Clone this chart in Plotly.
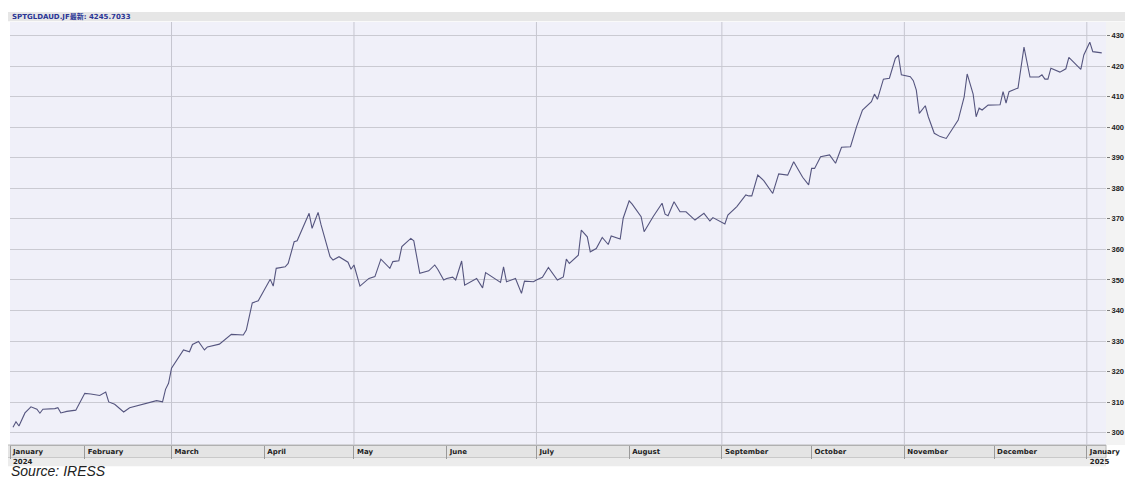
import plotly.graph_objects as go

# ---- data ----
dates = [
    "2024-01-08", "2024-01-09", "2024-01-10", "2024-01-11", "2024-01-12", "2024-01-14", "2024-01-16", "2024-01-17",
    "2024-01-18", "2024-01-22", "2024-01-23", "2024-01-24", "2024-01-26", "2024-01-29", "2024-01-30",
    "2024-02-01", "2024-02-03", "2024-02-06", "2024-02-08", "2024-02-09", "2024-02-11", "2024-02-14", "2024-02-16",
    "2024-02-21", "2024-02-23", "2024-02-25", "2024-02-27", "2024-02-28", "2024-02-29",
    "2024-03-01", "2024-03-05", "2024-03-07", "2024-03-08", "2024-03-10", "2024-03-12", "2024-03-13", "2024-03-17",
    "2024-03-20", "2024-03-21", "2024-03-25", "2024-03-26", "2024-03-28", "2024-03-30",
    "2024-04-01", "2024-04-03", "2024-04-04", "2024-04-05", "2024-04-08", "2024-04-09", "2024-04-11", "2024-04-12",
    "2024-04-16", "2024-04-17", "2024-04-19", "2024-04-20", "2024-04-23", "2024-04-24", "2024-04-26", "2024-04-29",
    "2024-04-30",
    "2024-05-01", "2024-05-03", "2024-05-06", "2024-05-08", "2024-05-10", "2024-05-13", "2024-05-14", "2024-05-16",
    "2024-05-17", "2024-05-20", "2024-05-21", "2024-05-23", "2024-05-26", "2024-05-28", "2024-05-29", "2024-05-31",
    "2024-06-01", "2024-06-03", "2024-06-04", "2024-06-06", "2024-06-07", "2024-06-11", "2024-06-13", "2024-06-14",
    "2024-06-19", "2024-06-20", "2024-06-21", "2024-06-24", "2024-06-26", "2024-06-27", "2024-06-30",
    "2024-07-01", "2024-07-03", "2024-07-05", "2024-07-08", "2024-07-10", "2024-07-11", "2024-07-12", "2024-07-15",
    "2024-07-16", "2024-07-18", "2024-07-19", "2024-07-21", "2024-07-23", "2024-07-25", "2024-07-26", "2024-07-29",
    "2024-07-30",
    "2024-08-01", "2024-08-02", "2024-08-05", "2024-08-06", "2024-08-09", "2024-08-12", "2024-08-13", "2024-08-14",
    "2024-08-16", "2024-08-18", "2024-08-20", "2024-08-23", "2024-08-26", "2024-08-28", "2024-08-29",
    "2024-09-02", "2024-09-03", "2024-09-06", "2024-09-09", "2024-09-10", "2024-09-11", "2024-09-13", "2024-09-15",
    "2024-09-18", "2024-09-20", "2024-09-23", "2024-09-25", "2024-09-28", "2024-09-30",
    "2024-10-01", "2024-10-02", "2024-10-04", "2024-10-07", "2024-10-09", "2024-10-11", "2024-10-14", "2024-10-16",
    "2024-10-18", "2024-10-21", "2024-10-22", "2024-10-23", "2024-10-25", "2024-10-27", "2024-10-29", "2024-10-30",
    "2024-10-31",
    "2024-11-03", "2024-11-04", "2024-11-05", "2024-11-06", "2024-11-08", "2024-11-09", "2024-11-11", "2024-11-13",
    "2024-11-15", "2024-11-19", "2024-11-21", "2024-11-22", "2024-11-24", "2024-11-25", "2024-11-26", "2024-11-27",
    "2024-11-29",
    "2024-12-03", "2024-12-04", "2024-12-05", "2024-12-06", "2024-12-09", "2024-12-11", "2024-12-13", "2024-12-16",
    "2024-12-17", "2024-12-18", "2024-12-19", "2024-12-20", "2024-12-23", "2024-12-25", "2024-12-26", "2024-12-30",
    "2024-12-31",
    "2025-01-02", "2025-01-03", "2025-01-06",
]
prices = [
    301.8, 303.6, 302.2, 304.2, 306.5, 308.5, 307.7, 306.4,
    307.7, 307.9, 308.2, 306.5, 307.0, 307.4, 309.1,
    312.9, 312.7, 312.2, 313.3, 310.1, 309.3, 306.8, 308.2,
    309.4, 310.1, 310.5, 310.1, 314.2, 316.2,
    321.1, 327.1, 326.5, 328.9, 329.9, 327.1, 328.1, 329.0,
    331.6, 332.2, 332.0, 333.6, 342.5, 343.2,
    346.7, 350.2, 348.0, 353.8, 354.3, 355.4, 362.5, 362.8,
    371.8, 366.9, 372.1, 368.0, 357.6, 356.5, 357.6, 355.8,
    353.5,
    354.9, 348.0, 350.5, 351.1, 356.8, 353.8, 356.0, 356.3,
    360.9, 363.6, 362.8, 352.2, 353.0, 354.9, 353.5, 350.0,
    350.5, 350.9, 350.0, 356.2, 348.3, 350.5, 347.4, 352.4,
    349.2, 354.3, 349.4, 350.5, 345.6, 349.6, 349.4,
    350.0, 350.9, 354.1, 350.0, 351.0, 356.8, 355.4, 358.1,
    366.3, 364.1, 359.2, 360.3, 363.9, 361.6, 364.4, 363.4,
    370.2,
    375.9, 374.8, 370.7, 365.8, 370.7, 375.1, 371.5, 371.0,
    375.6, 372.3, 372.3, 369.6, 371.8, 369.3, 370.4,
    368.3, 371.2, 374.0, 377.8, 377.5, 377.5, 384.3, 382.5,
    378.3, 384.7, 384.3, 388.7, 383.6, 381.1,
    386.5, 386.5, 390.3, 390.9, 388.2, 393.4, 393.6, 400.1,
    405.6, 408.3, 410.8, 409.1, 415.7, 416.0, 422.5, 423.6,
    417.1,
    416.5, 415.2, 412.1, 404.5, 407.0, 403.4, 398.0, 396.9,
    396.3, 402.3, 409.9, 417.4, 410.8, 403.4, 406.2, 405.6,
    407.2,
    407.3, 411.6, 407.9, 411.6, 412.8, 426.2, 416.4, 416.4,
    417.1, 415.7, 415.7, 419.3, 418.0, 419.1, 422.8, 418.9,
    423.6,
    427.8, 424.7, 424.3,
]

month_ticks = ["2024-01-07", "2024-02-01", "2024-03-01", "2024-04-01", "2024-05-01", "2024-06-01",
               "2024-07-01", "2024-08-01", "2024-09-01", "2024-10-01", "2024-11-01", "2024-12-01",
               "2025-01-01"]
month_labels = ["January<br>2024", "February", "March", "April", "May", "June", "July", "August",
                "September", "October", "November", "December", "January<br>2025"]
grid_ticks = ["2024-03-01", "2024-05-01", "2024-07-01", "2024-09-01", "2024-11-01", "2025-01-01"]
y_ticks = [300, 310, 320, 330, 340, 350, 360, 370, 380, 390, 400, 410, 420, 430]
header_text = "SPTGLDAUD.JF最新: 4245.7033"
source_text = "Source: IRESS"

x_range = ["2024-01-07", "2025-01-07 10:00"]
y_range = [296.0, 434.4]

small_font = dict(family="Tahoma, Verdana, 'DejaVu Sans', 'Noto Sans CJK SC'", size=7, color="#222222", weight="bold")
axis_num_font = dict(family="'Liberation Sans', Arial, sans-serif", size=7.5, color="#222222", weight="bold")

fig = go.Figure()
fig.add_trace(go.Scatter(
    x=dates, y=prices, mode="lines",
    line=dict(color="#55557f", width=1.1),
    showlegend=False, hoverinfo="x+y",
))

grid_shapes = [
    dict(type="line", xref="x", yref="y", x0=d, x1=d, y0=y_range[0], y1=y_range[1],
         line=dict(color="#c6c6d0", width=1), layer="between")
    for d in grid_ticks
]

fig.update_layout(
    width=1125, height=471,
    margin=dict(l=2, r=27, t=14, b=34),
    paper_bgcolor="#ffffff",
    plot_bgcolor="#f0f0f9",
    showlegend=False,
    xaxis=dict(
        type="date", range=x_range,
        tickmode="array", tickvals=month_ticks, ticktext=month_labels,
        ticklabelposition="outside right", ticklabelshift=2,
        ticks="outside", ticklen=13, tickcolor="#9a9a9a", tickwidth=1,
        tickfont=small_font,
        showgrid=False, zeroline=False,
        showline=True, linecolor="#b0b0b0", linewidth=1,
    ),
    yaxis=dict(
        side="right", range=y_range,
        tickmode="array", tickvals=y_ticks,
        ticks="outside", ticklen=3, tickcolor="#777777",
        tickfont=axis_num_font,
        showgrid=True, gridcolor="#cacad2", gridwidth=1,
        zeroline=False, showline=False,
    ),
    shapes=grid_shapes + [
        # header strip
        dict(type="rect", xref="paper", yref="paper", x0=-0.02, x1=1.03, y0=1.002, y1=1.0236,
             fillcolor="#e6e6e6", line=dict(width=0), layer="below"),
        # right axis strip
        dict(type="rect", xref="paper", yref="paper", x0=1.0, x1=1.03, y0=0, y1=1.0,
             fillcolor="#f3f3f3", line=dict(width=0), layer="below"),
        # month strip
        dict(type="rect", xref="paper", yref="paper", x0=-0.02, x1=1.0, y0=-0.0305, y1=0.0,
             fillcolor="#e4e4e4", line=dict(color="#b8b8b8", width=1), layer="below"),
        # year strip
        dict(type="rect", xref="paper", yref="paper", x0=-0.02, x1=1.0, y0=-0.05, y1=-0.0305,
             fillcolor="#ececec", line=dict(width=0), layer="below"),
    ],
    annotations=[
        dict(text=header_text, xref="paper", yref="paper", x=0.0, y=1.0135, xanchor="left", yanchor="middle",
             showarrow=False, font=dict(family="Tahoma, Verdana, 'DejaVu Sans', 'Noto Sans CJK SC'",
                                        size=7, color="#2a3596", weight="bold")),
        dict(text=source_text, xref="paper", yref="paper", x=0.0, y=-0.0826, xanchor="left", yanchor="bottom",
             borderpad=0, showarrow=False,
             font=dict(family="Arial, 'Liberation Sans'", size=14, color="#222222", style="italic")),
    ],
)

fig.write_html("out.html")
